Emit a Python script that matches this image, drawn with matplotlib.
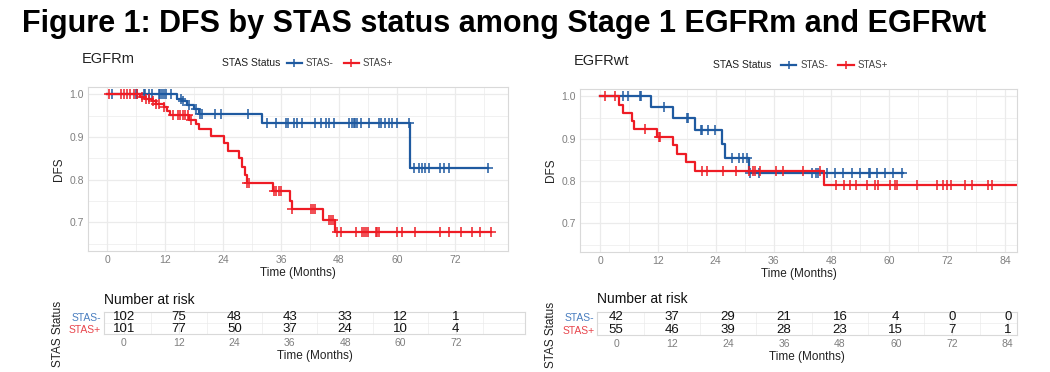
import matplotlib
matplotlib.use("Agg")
import matplotlib.pyplot as plt
from matplotlib.lines import Line2D
import numpy as np

plt.rcParams['font.family'] = ['Liberation Sans', 'DejaVu Sans']

BLUE = '#1F5AA0'
RED = '#EE1C25'
GRID = '#EBEBEB'
BORDER = '#D9D9D9'
TICKC = '#7F7F7F'

title = "Figure 1: DFS by STAS status among Stage 1 EGFRm and EGFRwt"
groups = ['STAS-', 'STAS+']

# ---- EGFRm ----
m_neg_t = [14.5, 15.5, 16.6, 18.0, 19.0, 32.1, 62.8]
m_neg_s = [0.99, 0.985, 0.975, 0.965, 0.953, 0.932, 0.828]
m_neg_end = 78.9
m_neg_cens = [0.9, 5.9, 6.2, 7.6, 7.9, 8.6, 9.3, 10.7, 11.0, 11.4, 11.7, 12.1, 13.1,
              15.2, 15.6, 17.0, 18.3, 19.3, 19.7, 22.4, 23.5, 29.2,
              33.1, 34.9, 37.1, 37.5, 38.7, 39.3, 40.4, 43.1, 44.2, 45.2, 45.9, 46.9,
              50.0, 50.7, 51.1, 51.4, 51.8, 52.5, 54.2, 56.3, 56.6, 57.6, 58.3, 59.0,
              60.1, 62.5, 63.5, 64.5, 65.2, 65.9, 66.6, 69.0, 69.7, 70.8, 78.9]

m_pos_t = [6.8, 7.8, 9.3, 10.0, 11.7, 12.4, 13.0, 16.9, 18.3, 19.0, 21.4, 24.2, 24.9,
           27.3, 28.0, 28.5, 29.0, 34.3, 37.8, 38.2, 44.7, 47.1]
m_pos_s = [0.995, 0.99, 0.985, 0.978, 0.97, 0.96, 0.952, 0.94, 0.93, 0.918, 0.902, 0.886,
           0.868, 0.85, 0.83, 0.81, 0.793, 0.773, 0.75, 0.73, 0.706, 0.678]
m_pos_end = 79.4
m_pos_cens = [0.3, 2.8, 3.5, 4.1, 4.8, 5.5, 6.2, 7.2, 8.0, 8.7, 9.4, 10.1, 10.8, 11.8,
              13.7, 14.7, 15.0, 15.7, 16.0, 16.7, 17.3, 29.0, 29.4, 34.5, 35.0, 35.5,
              36.0, 38.2, 42.2, 42.7, 43.1, 45.9, 46.3, 46.7, 47.6, 48.5, 51.6, 52.8,
              53.2, 53.5, 53.9, 55.6, 55.9, 56.3, 60.1, 61.1, 63.8, 69.0, 70.8, 73.2,
              75.6, 77.3, 79.4]

m_risk_times = [0, 12, 24, 36, 48, 60, 72]
m_risk_neg = [102, 75, 48, 43, 33, 12, 1]
m_risk_pos = [101, 77, 50, 37, 24, 10, 4]

# ---- EGFRwt ----
w_neg_t = [10.6, 15.1, 19.7, 25.2, 25.9, 31.0]
w_neg_s = [0.974, 0.949, 0.92, 0.887, 0.855, 0.82]
w_neg_end = 62.9
w_neg_cens = [4.8, 5.9, 8.3, 8.6, 13.3, 18.0, 18.3, 20.9, 21.2, 22.5, 23.9, 27.3, 28.9,
              29.7, 30.4, 31.1, 33.0, 43.9, 44.9, 45.3, 47.0, 48.7, 50.5, 52.2, 53.9,
              55.7, 56.0, 57.4, 59.1, 60.8, 62.6]

w_pos_t = [4.0, 4.8, 6.6, 7.1, 11.8, 15.2, 15.9, 17.8, 19.7, 46.5]
w_pos_s = [0.98, 0.962, 0.943, 0.924, 0.904, 0.885, 0.865, 0.845, 0.824, 0.79]
w_pos_end = 88.0
w_pos_cens = [1.0, 3.1, 9.3, 12.2, 12.4, 21.1, 22.1, 25.6, 28.3, 30.8, 31.8, 32.2, 33.2,
              36.6, 38.0, 42.2, 45.6, 48.9, 50.6, 51.9, 53.2, 55.3, 57.0, 57.7, 60.1,
              61.2, 61.5, 65.7, 69.8, 71.2, 71.9, 72.9, 75.7, 77.1, 80.5, 81.4]

w_risk_times = [0, 12, 24, 36, 48, 60, 72, 84]
w_risk_neg = [42, 37, 29, 21, 16, 4, 0, 0]
w_risk_pos = [55, 46, 39, 28, 23, 15, 7, 1]


def km(ax, t, s, end, cens, color):
    tt = np.array([0] + t + [end])
    ss = np.array([1.0] + s + [s[-1]])
    ax.step(tt, ss, where='post', color=color, lw=1.6)
    c = np.array(cens)
    idx = np.searchsorted(tt, c, side='right') - 1
    ax.plot(c, ss[idx], ls='none', marker='+', ms=6.5, mew=1.1, color=color)


def style_panel(ax, xmax_tick):
    for sp in ax.spines.values():
        sp.set_color(BORDER)
    ax.set_xticks(np.arange(0, xmax_tick + 1, 12))
    ax.set_xticks(np.arange(6, 90, 12), minor=True)
    ax.tick_params(which='both', length=0, labelsize=7.5, labelcolor=TICKC, pad=3)
    ax.grid(True, which='major', color=GRID, lw=0.9)
    ax.grid(True, which='minor', color=GRID, lw=0.5)
    ax.set_axisbelow(True)


def km_panel(ax, name, curves, xlim, xmax_tick, leg_x, lab_x):
    for args in curves:
        km(ax, *args)
    ax.set_xlim(*xlim)
    ax.set_ylim(0.6325, 1.0175)
    ax.set_yticks([0.7, 0.8, 0.9, 1.0])
    ax.set_yticklabels(['0.7', '0.8', '0.9', '1.0'])
    ax.set_yticks([0.65, 0.75, 0.85, 0.95], minor=True)
    style_panel(ax, xmax_tick)
    ax.set_xlabel('Time (Months)', fontsize=8.5, color='#222222', labelpad=1)
    ax.set_ylabel('DFS', fontsize=8.5, color='#222222', labelpad=3)
    ax.text(-0.015, 1.17, name, transform=ax.transAxes, fontsize=10.5, color='#222222',
            ha='left', va='center')
    ax.text(lab_x, 1.145, 'STAS Status', transform=ax.transAxes, fontsize=7.5,
            color='#222222', ha='right', va='center')
    handles = [Line2D([0], [0], color=BLUE, lw=1.6, marker='+', ms=6, mew=1.1),
               Line2D([0], [0], color=RED, lw=1.6, marker='+', ms=6, mew=1.1)]
    ax.legend(handles, groups, ncol=2, loc='center', bbox_to_anchor=(leg_x, 1.145),
              frameon=False, fontsize=7, handlelength=1.6, handletextpad=0.4,
              columnspacing=1.0, borderpad=0, labelcolor='#444444')


def risk_table(ax, times, neg, pos, xlim, xmax_tick):
    for x, v in zip(times, neg):
        ax.text(x, 1.55, str(v), ha='center', va='center', fontsize=9.5, color='#111111')
    for x, v in zip(times, pos):
        ax.text(x, 0.45, str(v), ha='center', va='center', fontsize=9.5, color='#111111')
    ax.set_xlim(*xlim)
    ax.set_ylim(0, 2)
    ax.set_yticks([1.55, 0.45])
    ax.set_yticklabels(groups)
    ax.set_yticks([1.0], minor=True)
    style_panel(ax, xmax_tick)
    ax.grid(False, axis='y', which='major')
    ax.set_xticks(times)
    ax.tick_params(axis='y', labelsize=7.5, pad=2)
    ax.get_yticklabels()[0].set_color('#4A7EC0')
    ax.get_yticklabels()[1].set_color('#E8454C')
    ax.set_xlabel('Time (Months)', fontsize=8.5, color='#222222', labelpad=1)
    ax.set_ylabel('STAS Status', fontsize=8.5, color='#222222', labelpad=3)
    ax.yaxis.set_label_coords(-0.095, 0.0)
    ax.text(0.0, 1.55, 'Number at risk', transform=ax.transAxes, fontsize=10,
            color='#111111', ha='left', va='center')


fig = plt.figure(figsize=(10.5, 3.72), dpi=100)
fig.text(0.021, 0.935, title, fontsize=22, fontweight='bold', ha='left', va='center')

ax1 = fig.add_axes([0.0838, 0.3253, 0.400, 0.4409])
km_panel(ax1, 'EGFRm',
         [(m_neg_t, m_neg_s, m_neg_end, m_neg_cens, BLUE),
          (m_pos_t, m_pos_s, m_pos_end, m_pos_cens, RED)],
         (-4.0, 83.0), 72, 0.60, 0.457)

ax2 = fig.add_axes([0.5524, 0.3226, 0.4162, 0.4380])
km_panel(ax2, 'EGFRwt',
         [(w_neg_t, w_neg_s, w_neg_end, w_neg_cens, BLUE),
          (w_pos_t, w_pos_s, w_pos_end, w_pos_cens, RED)],
         (-4.15, 86.5), 84, 0.582, 0.439)

t1 = fig.add_axes([0.0990, 0.1022, 0.4010, 0.0591])
risk_table(t1, m_risk_times, m_risk_neg, m_risk_pos, (-4.3, 87.0), 72)

t2 = fig.add_axes([0.5686, 0.0995, 0.4000, 0.0618])
risk_table(t2, w_risk_times, w_risk_neg, w_risk_pos, (-4.1, 86.0), 84)

fig.savefig('out.png', dpi=100)
